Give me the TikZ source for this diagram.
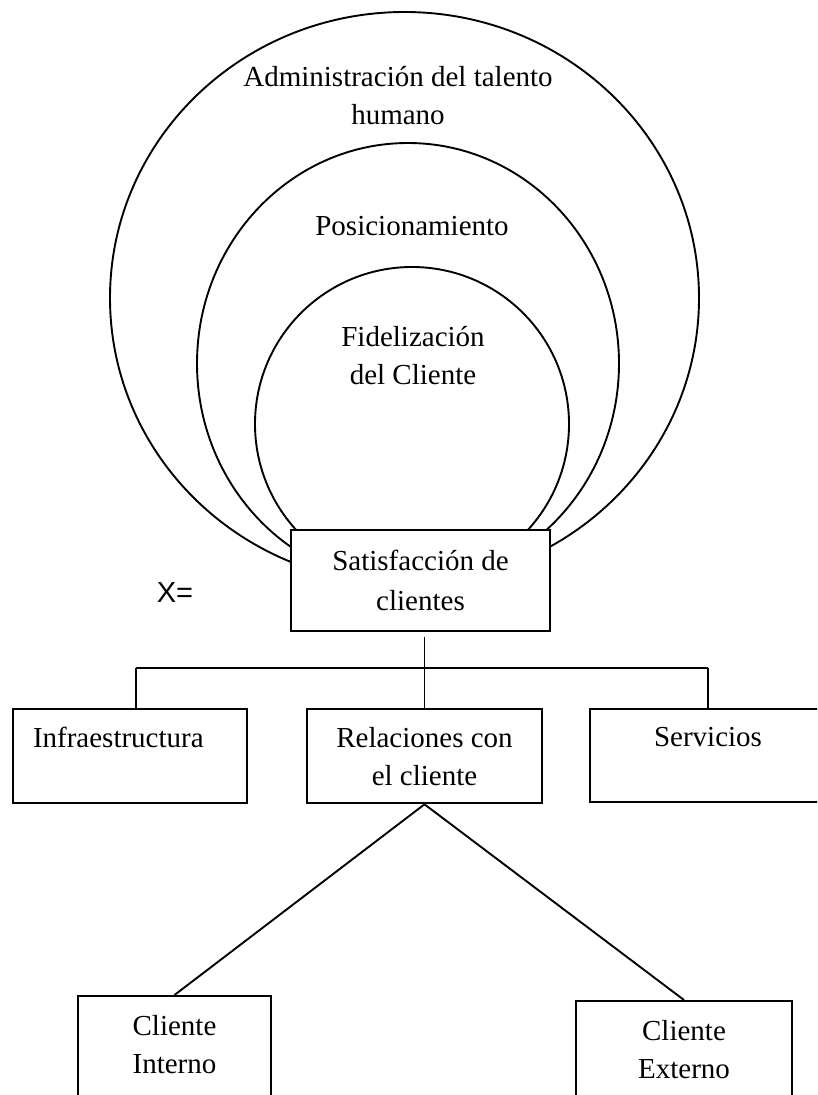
\documentclass[tikz,border=0pt]{standalone}
\usepackage{fontspec}
\setmainfont{Liberation Serif}
\newfontfamily\xsans{Liberation Sans}
\usetikzlibrary{positioning}

\tikzset{
  ring/.style={line width=1.9pt},
  box/.style={draw, line width=1.9pt, fill=white, align=center, anchor=north, inner xsep=6pt, inner ysep=18pt},
}

\begin{document}
\begin{tikzpicture}[x=1pt, y=-1pt, font=\fontsize{29}{38}\selectfont]
    \clip (0,0) rectangle (817,1095);
    \fill[white] (0,0) rectangle (817,1095);

    % draw rings
    \draw[ring] (404.5,298) ellipse [x radius=294.5pt, y radius=286pt];
    \draw[ring] (408,363.5) ellipse [x radius=211pt, y radius=220.5pt];
    \draw[ring] (412,424) circle [radius=157pt];

    % ring labels
    \node[align=center] (admin) at (398,96) {Administración del talento\\humano};
    \node (posic) at (412,226) {Posicionamiento};
    \node[align=center] (fidel) at (413,356) {Fidelización\\del Cliente};

    % boxes
    \node[box, minimum width=259pt, minimum height=101pt, font=\fontsize{29}{40}\selectfont] (satis) at (420.5,529) {Satisfacción de\\clientes};
    \node (xeq) at (175,593) {\xsans X=};

    \node[box, align=left, text width=194pt, inner xsep=20pt] (infra) at (130,708) {Infraestructura\\~};
    \node[box, minimum width=235pt] (relac) at (424.5,708) {Relaciones con\\el cliente};
    \node[box, minimum width=236pt] (serv) at (708,708) {Servicios\\~};

    \node[box, minimum width=193pt, inner ysep=19pt] (interno) at (174.5,995) {Cliente\\Interno\\~\\~};
    \node[box, minimum width=216pt, inner ysep=19pt] (externo) at (684,1000) {Cliente\\Externo\\~\\~};

    % draw connectors
    \coordinate (hub) at (424.5,668);
    \draw[ring, shorten <=5pt] (satis.south -| relac.north) -- (relac.north);
    \draw[ring] ([xshift=6pt]infra.north |- hub) -- (serv.north |- hub);
    \draw[ring] ([xshift=6pt]infra.north |- hub) -- ([xshift=6pt]infra.north);
    \draw[ring] (serv.north |- hub) -- (serv.north);
    \draw[ring] (relac.south) -- (interno.north);
    \draw[ring] (relac.south) -- (externo.north);
\end{tikzpicture}
\end{document}
